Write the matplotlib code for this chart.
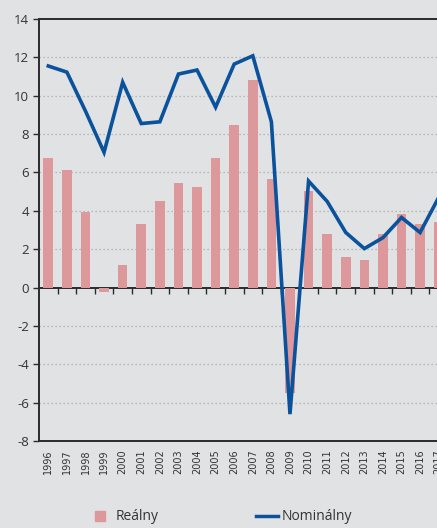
import matplotlib
matplotlib.use("Agg")
import matplotlib.pyplot as plt
from matplotlib.lines import Line2D
import numpy as np

years = list(range(1996, 2018))
realny = [6.74, 6.11, 3.92, -0.22, 1.15, 3.29, 4.49, 5.43, 5.22, 6.74, 8.46,
          10.8, 5.64, -5.5, 5.02, 2.77, 1.57, 1.46, 2.77, 3.81, 3.29, 3.40]
nominalny = [11.55, 11.23, 9.2, 7.05, 10.7, 8.55, 8.64, 11.13, 11.34, 9.40, 11.65,
             12.08, 8.64, -6.6, 5.55, 4.49, 2.87, 2.03, 2.6, 3.65, 2.87, 4.70]
yticks = list(range(-8, 15, 2))
legend_labels = ["Reálny", "Nominálny"]

bg = "#e1e2e4"
bar_color = "#dc989b"
line_color = "#0a529b"
spine_color = "#2b2b2b"

plt.rcParams['font.family'] = ['Open Sans', 'DejaVu Sans']

fig = plt.figure(figsize=(4.37, 5.28), dpi=100, facecolor=bg)
ax = fig.add_axes([39/437, 1-441/528, (448-39)/437, (441-19)/528])
ax.set_facecolor(bg)

x = np.arange(len(years))
ax.bar(x, realny, width=0.52, color=bar_color, zorder=2)
ax.plot(x, nominalny, color=line_color, lw=2.6, zorder=3, solid_joinstyle='miter')

ax.set_xlim(-0.5, len(years) - 0.5)
ax.set_ylim(-8, 14)
ax.set_yticks(yticks)
ax.set_yticklabels([str(v) for v in yticks], fontsize=9.5, color="#333333")
ax.tick_params(axis='y', direction='out', length=4, width=1, color=spine_color, pad=3)

for v in yticks:
    if v not in (-8, 0, 14):
        ax.axhline(v, color="#ababab", lw=0.9, ls=(0, (1, 2.2)), zorder=1)

ax.set_xticks(x)
ax.set_xticklabels([str(y) for y in years], rotation=90, fontsize=7,
                   family=['Liberation Sans Narrow', 'DejaVu Sans'], color="#333333")
ax.tick_params(axis='x', length=0, pad=6)

for s in ['left', 'bottom', 'top']:
    ax.spines[s].set_color(spine_color)
    ax.spines[s].set_linewidth(1.4)
ax.spines['right'].set_visible(False)

# zero axis with ticks between categories
sec = ax.secondary_xaxis(8/22)
sec.set_xticks(x[:-1] + 0.5)
sec.set_xticklabels([])
sec.tick_params(axis='x', direction='out', length=4, width=1, color=spine_color)
sec.spines['bottom'].set_color(spine_color)
sec.spines['bottom'].set_linewidth(1.4)

handles = [Line2D([], [], marker='s', ls='none', markersize=7.5, color=bar_color),
           Line2D([], [], color=line_color, lw=2.5)]
fig.legend(handles, legend_labels, loc='center', bbox_to_anchor=(0.505, 0.021),
           ncol=2, frameon=False, fontsize=10, handlelength=1.6,
           handletextpad=0.3, columnspacing=7.0, labelcolor="#333333")

fig.savefig("out.png", dpi=100, facecolor=bg)
